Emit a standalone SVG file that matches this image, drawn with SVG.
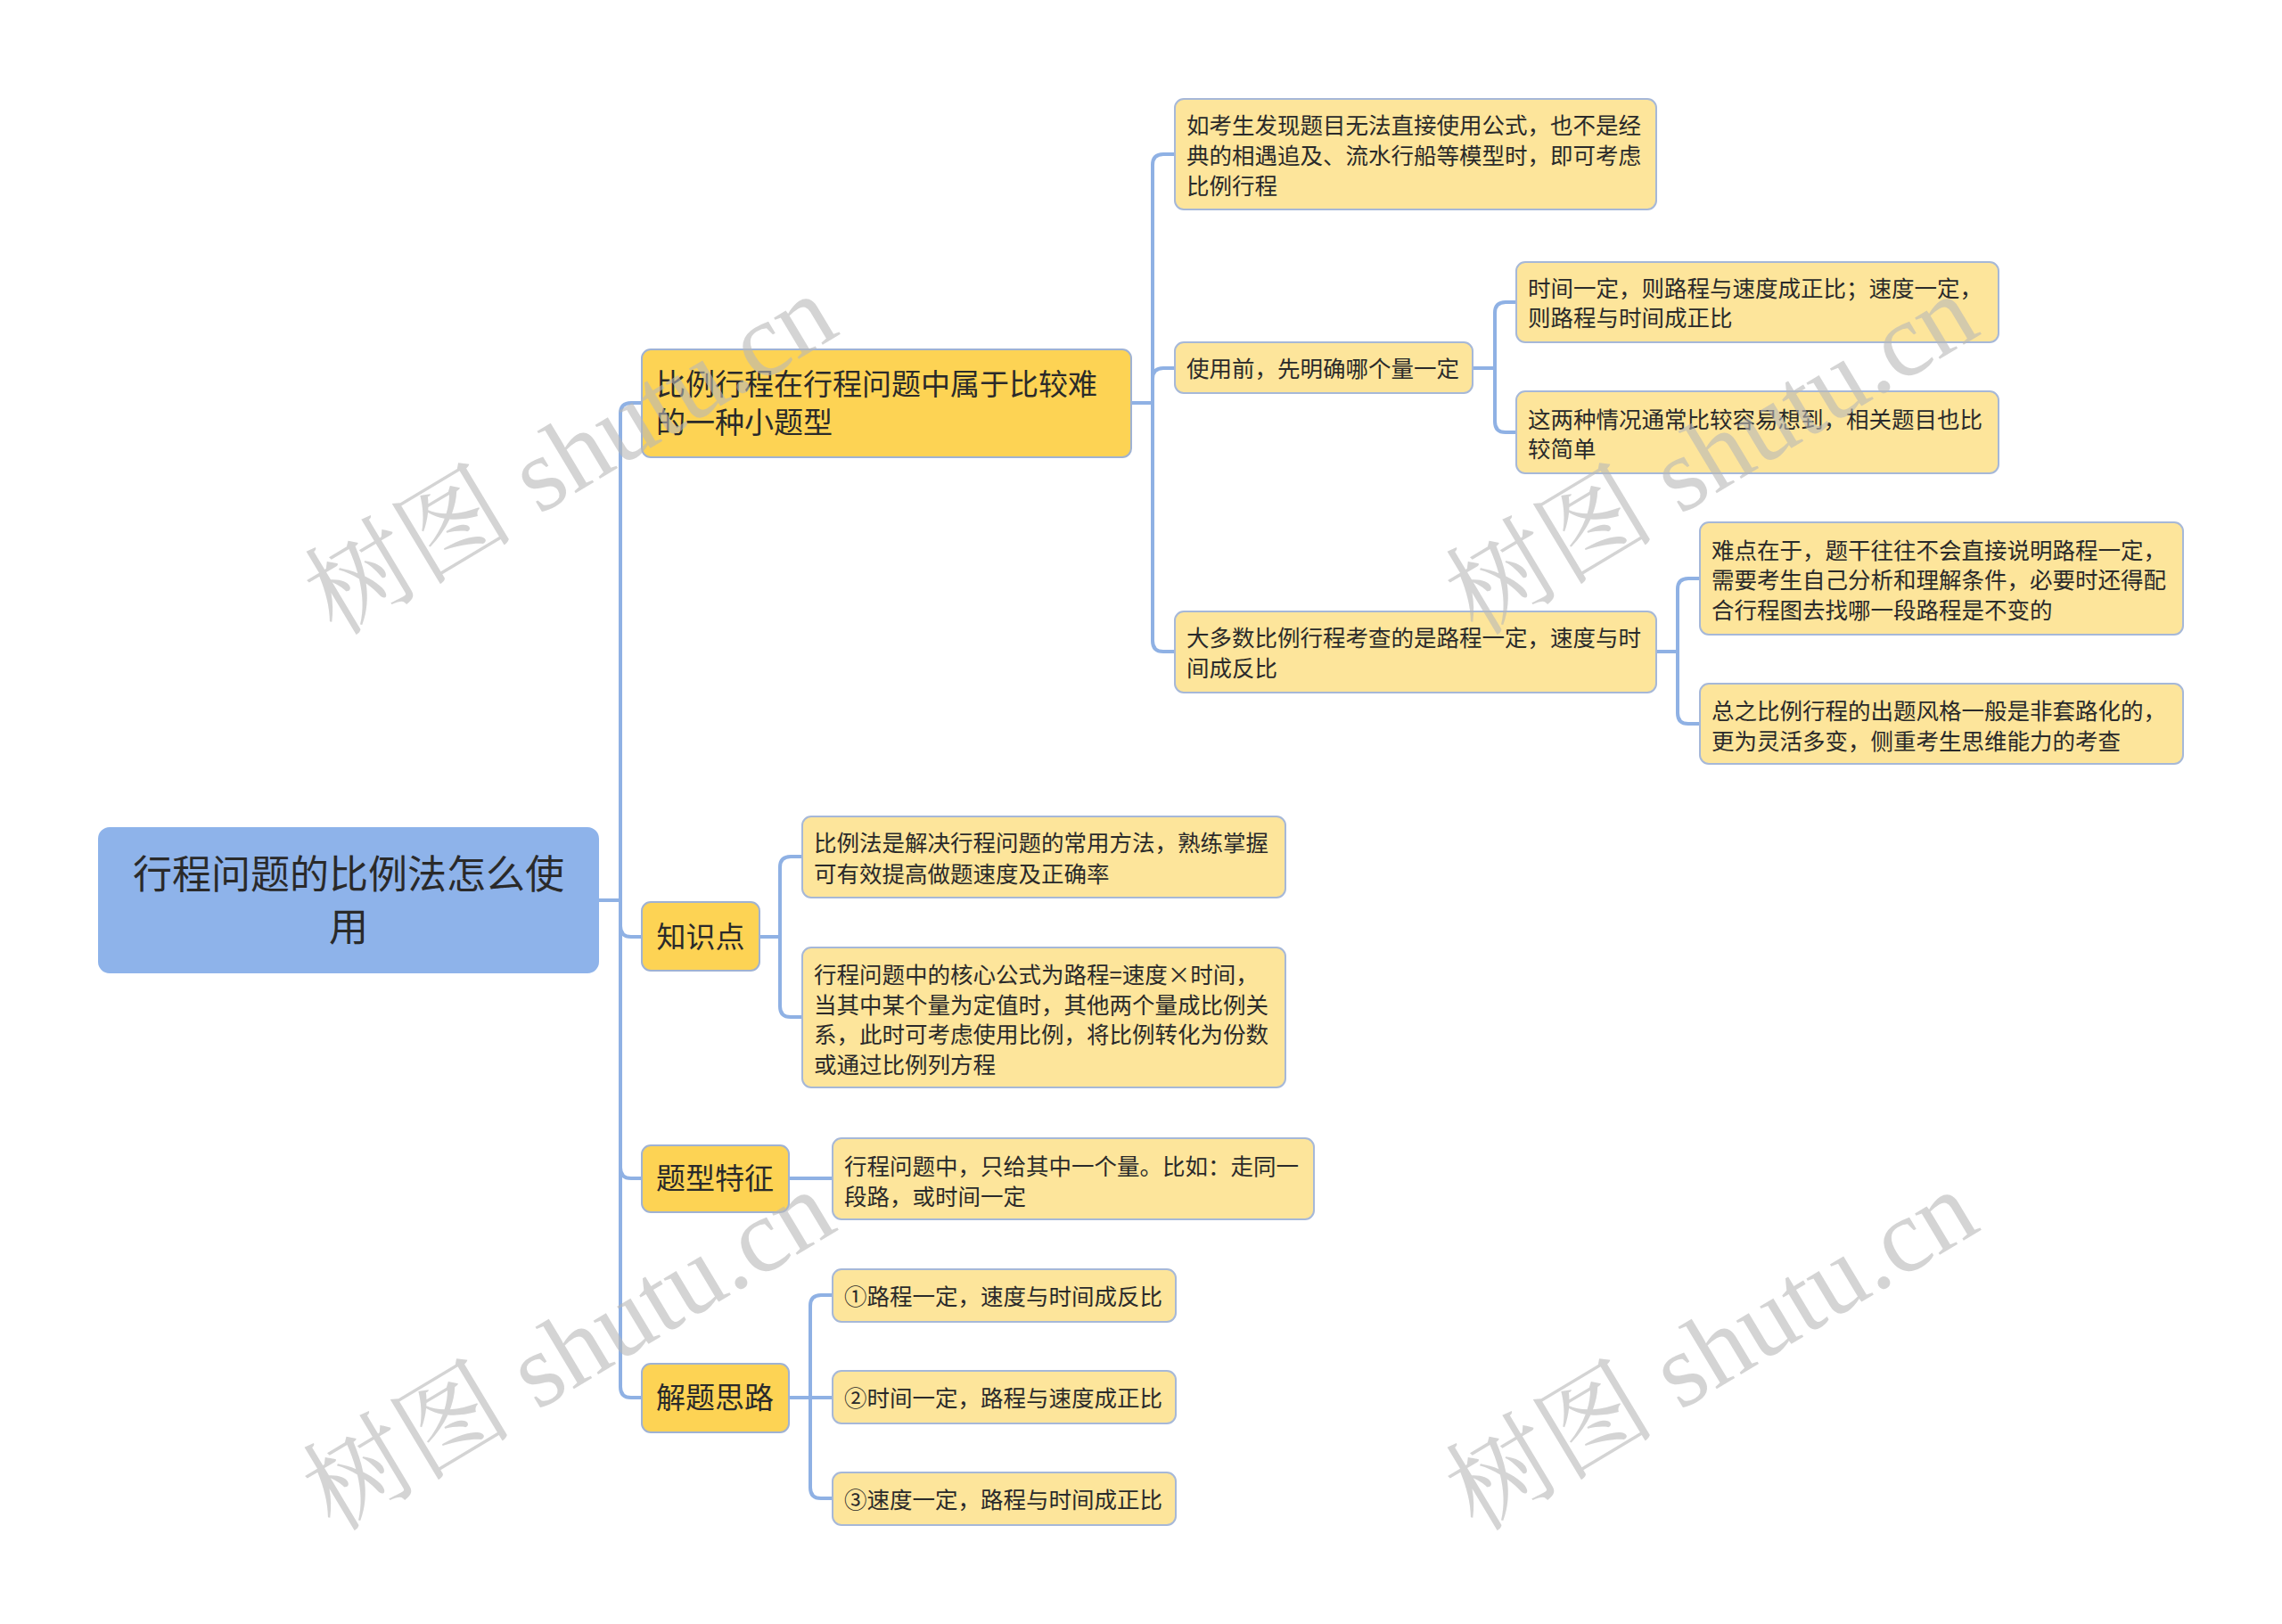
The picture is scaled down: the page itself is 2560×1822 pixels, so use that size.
<svg xmlns="http://www.w3.org/2000/svg" width="2560" height="1822" viewBox="0 0 2560 1822">
<style>
.t{font-family:"Noto Sans CJK SC","Noto Sans",sans-serif;fill:#2a2a2a;dominant-baseline:central}
.root rect{fill:#8eb3ea;stroke:#8eb3ea;stroke-width:2}
.l1 rect{fill:#fdd354;stroke:#9fb2d3;stroke-width:2}
.l2 rect{fill:#fde59b;stroke:#a6b8d8;stroke-width:2}
.root text{font-size:44px}
.l1 text{font-size:33px}
.l2 text{font-size:25.5px}
.wm{font-family:"Liberation Serif","Noto Serif CJK SC","Noto Sans CJK SC",serif;font-size:118px;fill:#b8b8b8;fill-opacity:0.6}
#connectors path{fill:none;stroke:#8fb1e4;stroke-width:4}
</style>
<rect width="2560" height="1822" fill="#ffffff"/>
<g id="connectors">
<path d="M671,1010 H696"/>
<path d="M696,1010 V464 Q696,452 708,452 H720"/>
<path d="M696,1010 V1039 Q696,1051 708,1051 H720"/>
<path d="M696,1010 V1310 Q696,1322 708,1322 H720"/>
<path d="M696,1010 V1556 Q696,1568 708,1568 H720"/>
<path d="M1269,452 H1293"/>
<path d="M1293,452 V185 Q1293,173 1305,173 H1318"/>
<path d="M1293,452 V425 Q1293,413 1305,413 H1318"/>
<path d="M1293,452 V719 Q1293,731 1305,731 H1318"/>
<path d="M1652,413 H1677"/>
<path d="M1677,413 V351 Q1677,339 1689,339 H1701"/>
<path d="M1677,413 V473 Q1677,485 1689,485 H1701"/>
<path d="M1858,731 H1882"/>
<path d="M1882,731 V661 Q1882,649 1894,649 H1907"/>
<path d="M1882,731 V800 Q1882,812 1894,812 H1907"/>
<path d="M852,1051 H875"/>
<path d="M875,1051 V973 Q875,961 887,961 H900"/>
<path d="M875,1051 V1129 Q875,1141 887,1141 H900"/>
<path d="M885,1322 H934"/>
<path d="M885,1568 H909"/>
<path d="M909,1568 V1465 Q909,1453 921,1453 H934"/>
<path d="M909,1568 H934"/>
<path d="M909,1568 V1669 Q909,1681 921,1681 H934"/>
</g>
<g id="root" class="root">
<rect x="111" y="929" width="560" height="162" rx="12"/>
<text class="t" x="391" y="978" text-anchor="middle">行程问题的比例法怎么使</text>
<text class="t" x="391" y="1037" text-anchor="middle">用</text>
</g>
<g id="n1" class="l1">
<rect x="720" y="392" width="549" height="121" rx="10"/>
<text class="t" x="736" y="429">比例行程在行程问题中属于比较难</text>
<text class="t" x="736" y="472">的一种小题型</text>
</g>
<g id="n2" class="l1">
<rect x="720" y="1012" width="132" height="77" rx="10"/>
<text class="t" x="786" y="1049" text-anchor="middle">知识点</text>
</g>
<g id="n3" class="l1">
<rect x="720" y="1285" width="165" height="75" rx="10"/>
<text class="t" x="802" y="1320" text-anchor="middle">题型特征</text>
</g>
<g id="n4" class="l1">
<rect x="720" y="1530" width="165" height="77" rx="10"/>
<text class="t" x="802" y="1566" text-anchor="middle">解题思路</text>
</g>
<g id="a" class="l2">
<rect x="1318" y="111" width="540" height="124" rx="10"/>
<text class="t" x="1331" y="138">如考生发现题目无法直接使用公式，也不是经</text>
<text class="t" x="1331" y="172">典的相遇追及、流水行船等模型时，即可考虑</text>
<text class="t" x="1331" y="206">比例行程</text>
</g>
<g id="b" class="l2">
<rect x="1318" y="384" width="334" height="57" rx="10"/>
<text class="t" x="1331" y="411">使用前，先明确哪个量一定</text>
</g>
<g id="c" class="l2">
<rect x="1318" y="686" width="540" height="91" rx="10"/>
<text class="t" x="1331" y="713">大多数比例行程考查的是路程一定，速度与时</text>
<text class="t" x="1331" y="747">间成反比</text>
</g>
<g id="j" class="l2">
<rect x="1701" y="294" width="541" height="90" rx="10"/>
<text class="t" x="1714" y="321">时间一定，则路程与速度成正比；速度一定，</text>
<text class="t" x="1714" y="354">则路程与时间成正比</text>
</g>
<g id="k" class="l2">
<rect x="1701" y="439" width="541" height="92" rx="10"/>
<text class="t" x="1714" y="468">这两种情况通常比较容易想到，相关题目也比</text>
<text class="t" x="1714" y="501">较简单</text>
</g>
<g id="l" class="l2">
<rect x="1907" y="586" width="542" height="126" rx="10"/>
<text class="t" x="1920" y="615">难点在于，题干往往不会直接说明路程一定，</text>
<text class="t" x="1920" y="648">需要考生自己分析和理解条件，必要时还得配</text>
<text class="t" x="1920" y="682">合行程图去找哪一段路程是不变的</text>
</g>
<g id="m" class="l2">
<rect x="1907" y="767" width="542" height="90" rx="10"/>
<text class="t" x="1920" y="795">总之比例行程的出题风格一般是非套路化的，</text>
<text class="t" x="1920" y="829">更为灵活多变，侧重考生思维能力的考查</text>
</g>
<g id="d" class="l2">
<rect x="900" y="916" width="542" height="91" rx="10"/>
<text class="t" x="913" y="943">比例法是解决行程问题的常用方法，熟练掌握</text>
<text class="t" x="913" y="978">可有效提高做题速度及正确率</text>
</g>
<g id="e" class="l2">
<rect x="900" y="1063" width="542" height="157" rx="10"/>
<text class="t" x="913" y="1091">行程问题中的核心公式为路程=速度×时间，</text>
<text class="t" x="913" y="1125">当其中某个量为定值时，其他两个量成比例关</text>
<text class="t" x="913" y="1158">系，此时可考虑使用比例，将比例转化为份数</text>
<text class="t" x="913" y="1192">或通过比例列方程</text>
</g>
<g id="f" class="l2">
<rect x="934" y="1277" width="540" height="91" rx="10"/>
<text class="t" x="947" y="1306">行程问题中，只给其中一个量。比如：走同一</text>
<text class="t" x="947" y="1340">段路，或时间一定</text>
</g>
<g id="g" class="l2">
<rect x="934" y="1424" width="385" height="59" rx="10"/>
<text class="t" x="947" y="1452">①路程一定，速度与时间成反比</text>
</g>
<g id="h" class="l2">
<rect x="934" y="1538" width="385" height="59" rx="10"/>
<text class="t" x="947" y="1566">②时间一定，路程与速度成正比</text>
</g>
<g id="i" class="l2">
<rect x="934" y="1652" width="385" height="59" rx="10"/>
<text class="t" x="947" y="1680">③速度一定，路程与时间成正比</text>
</g>
<g id="watermarks">
<text class="wm" x="640" y="550" text-anchor="middle" transform="rotate(-31 640 510)">树图 shutu.cn</text>
<text class="wm" x="1920" y="550" text-anchor="middle" transform="rotate(-31 1920 510)">树图 shutu.cn</text>
<text class="wm" x="638" y="1555" text-anchor="middle" transform="rotate(-31 638 1515)">树图 shutu.cn</text>
<text class="wm" x="1920" y="1555" text-anchor="middle" transform="rotate(-31 1920 1515)">树图 shutu.cn</text>
</g>
</svg>
